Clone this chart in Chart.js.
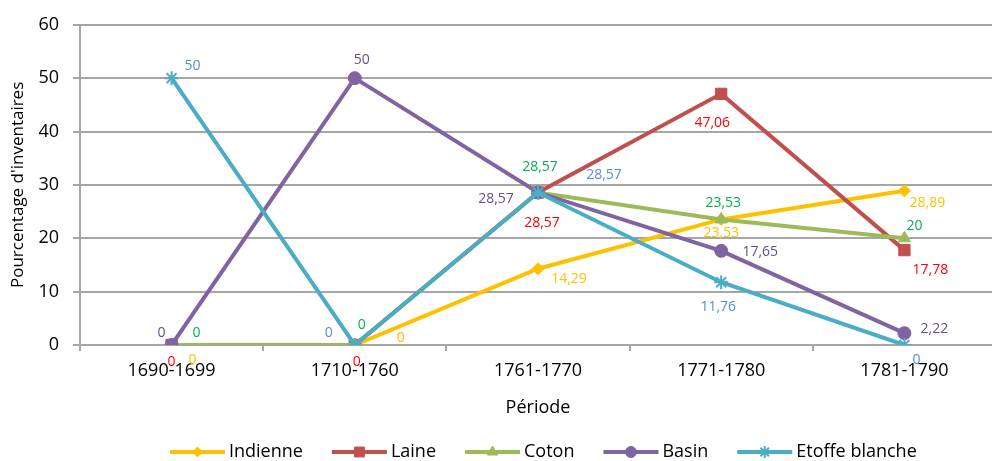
<!DOCTYPE html>
<html>
<head>
<meta charset="utf-8">
<script src="https://cdn.jsdelivr.net/npm/chart.js@4/dist/chart.umd.min.js"></script>
<style>
  html, body { margin: 0; padding: 0; background: #fff; overflow: hidden; }
  /* plot area runs on past the right edge of the picture, as in the source */
  #wrap { width: 1005px; height: 461px; }
</style>
</head>
<body>
<div id="wrap"><canvas id="chart" width="1005" height="461"></canvas></div>
<script>
// --- data ---
const periodes = ['1690-1699', '1710-1760', '1761-1770', '1771-1780', '1781-1790'];
const indienne = [0, 0, 14.29, 23.53, 28.89];
const laine = [0, 0, 28.57, 47.06, 17.78];
const coton = [0, 0, 28.57, 23.53, 20];
const basin = [0, 50, 28.57, 17.65, 2.22];
const etoffeBlanche = [50, 0, 28.57, 11.76, 0];
const yMin = 0, yMax = 60, yStep = 10;

// label offsets (px from the point), per series, like Excel's placement
const labelOffsets = {
    'Indienne':       [[21, 15], [46, -7], [31, 10], [0, 14], [23, 12]],
    'Laine':          [[0, 17], [2, 17], [4, 30], [-9, 29], [26, 20]],
    'Coton':          [[25, -12], [7, -20], [2, -26], [2, -16], [10, -12]],
    'Basin':          [[-10, -12], [7, -18], [-42, 6], [39, 1], [30, -4]],
    'Etoffe blanche': [[21, -12], [-26, -12], [66, -18], [-3, 25], [12, 15]]
};

const FONT = "'Open Sans', sans-serif";
const GRID = '#a6a6a6';

function serie(label, data, color, labelColor, pointStyle, radius, order) {
    return {
        label: label,
        data: data,
        borderColor: color,
        backgroundColor: color,
        borderWidth: 4,
        tension: 0,
        pointStyle: pointStyle,
        pointRadius: radius,
        pointHoverRadius: radius,
        pointBackgroundColor: color,
        pointBorderColor: color,
        pointBorderWidth: pointStyle === 'star' ? 2 : 1,
        labelColor: labelColor,
        order: order
    };
}

const valueLabels = {
    id: 'valueLabels',
    afterDatasetsDraw(chart) {
        const ctx = chart.ctx;
        ctx.save();
        ctx.font = '14px ' + FONT;
        ctx.textAlign = 'center';
        ctx.textBaseline = 'middle';
        chart.data.datasets.forEach((ds, i) => {
            const meta = chart.getDatasetMeta(i);
            const offs = labelOffsets[ds.label];
            ctx.fillStyle = ds.labelColor;
            meta.data.forEach((pt, j) => {
                const txt = String(ds.data[j]).replace('.', ',');
                ctx.fillText(txt, pt.x + offs[j][0], pt.y + offs[j][1]);
            });
        });
        ctx.restore();
    }
};

// Excel-like legend: line with marker in the middle, then the name
const lineLegend = {
    id: 'lineLegend',
    afterDraw(chart) {
        const ctx = chart.ctx;
        const y = 452;
        let x = 170;
        ctx.save();
        ctx.font = '18px ' + FONT;
        ctx.textBaseline = 'middle';
        ctx.textAlign = 'left';
        chart.data.datasets.forEach(ds => {
            ctx.strokeStyle = ds.borderColor;
            ctx.lineWidth = 4;
            ctx.beginPath();
            ctx.moveTo(x, y);
            ctx.lineTo(x + 55, y);
            ctx.stroke();
            ctx.fillStyle = ds.borderColor;
            ctx.strokeStyle = ds.borderColor;
            ctx.lineWidth = ds.pointBorderWidth;
            Chart.helpers.drawPoint(ctx, {
                pointStyle: ds.pointStyle,
                radius: ds.pointRadius - 1,
                rotation: 0,
                borderWidth: ds.pointBorderWidth
            }, x + 27.5, y);
            ctx.fillStyle = '#000';
            ctx.fillText(ds.label, x + 59, y);
            x += 59 + ctx.measureText(ds.label).width + 29;
        });
        ctx.restore();
    }
};

new Chart(document.getElementById('chart'), {
    type: 'line',
    data: {
        labels: periodes,
        datasets: [
            serie('Indienne', indienne, '#FFC000', '#FFC000', 'rectRot', 6, 5),
            serie('Laine', laine, '#C0504D', '#FF0000', 'rect', 8, 4),
            serie('Coton', coton, '#9BBB59', '#00B050', 'triangle', 7, 3),
            serie('Basin', basin, '#8064A2', '#65508A', 'circle', 6.5, 2),
            serie('Etoffe blanche', etoffeBlanche, '#4BACC6', '#558ED5', 'star', 7, 1)
        ]
    },
    options: {
        responsive: false,
        animation: false,
        layout: { padding: { top: 13, right: 0, bottom: 36, left: 0 } },
        plugins: {
            legend: { display: false },
            tooltip: { enabled: false }
        },
        scales: {
            x: {
                offset: true,
                grid: { offset: true, drawOnChartArea: false, tickLength: 6, color: GRID, lineWidth: 2 },
                border: { color: GRID, width: 2 },
                ticks: { padding: 9, color: '#000', font: { family: FONT, size: 18 } },
                title: {
                    display: true, text: 'Période', color: '#000',
                    font: { family: FONT, size: 18 }, padding: { top: 4, bottom: 6 }
                },
                afterFit: s => { s.height = 80; }
            },
            y: {
                min: yMin,
                max: yMax,
                ticks: { stepSize: yStep, padding: 14, color: '#000', font: { family: FONT, size: 18 } },
                grid: { color: GRID, lineWidth: 2, tickLength: 7 },
                border: { color: GRID, width: 2 },
                title: {
                    display: true, text: "Pourcentage d'inventaires", color: '#000',
                    font: { family: FONT, size: 17 }, padding: { top: 8, bottom: 0 }
                },
                afterFit: s => { s.width = 80; }
            }
        }
    },
    plugins: [valueLabels, lineLegend]
});
</script>
</body>
</html>
